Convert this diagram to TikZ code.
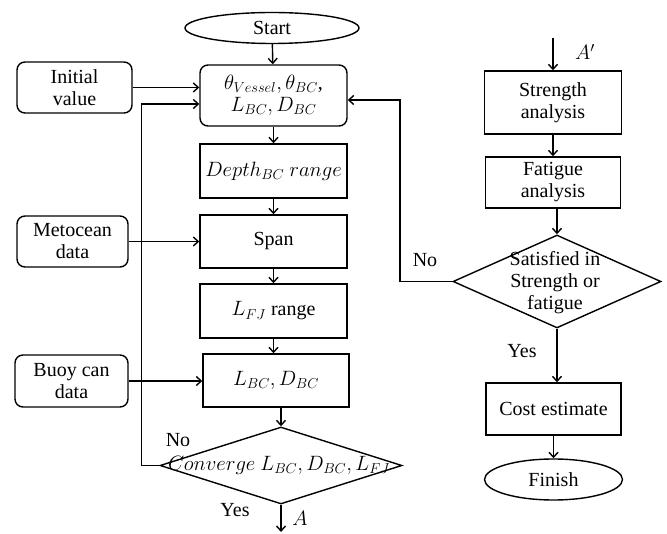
\documentclass[tikz,border=0pt]{standalone}
\usepackage{fontspec}
\setmainfont{Liberation Serif}
\usetikzlibrary{shapes.geometric,arrows.meta}
\begin{document}
\begin{tikzpicture}[x=1pt,y=-1pt,
  every node/.style={font=\fontsize{20}{22}\selectfont},
  box/.style={draw,line width=1.4pt,rectangle,inner sep=0pt,align=center},
  rbox/.style={box,rounded corners=8pt},
  term/.style={draw,line width=1.4pt,ellipse,inner sep=0pt},
  decision/.style={draw,line width=1.4pt,diamond,inner sep=0pt},
  flow/.style={line width=1.4pt,-{Straight Barb[length=5pt,width=9pt]}},
  lbl/.style={inner sep=0pt}]
\useasboundingbox (0,0) rectangle (667,534);
% left column
\node[term,minimum width=174pt,minimum height=31pt] (start) at (272,28) {Start};
\node[rbox,minimum width=147pt,minimum height=61pt] (b1) at (273.5,95.5) {$\theta_{Vessel},\theta_{BC}$,\\$L_{BC},D_{BC}$};
\node[rbox,minimum width=115pt,minimum height=51pt] (iv) at (74.5,87.5) {Initial\\value};
\node[box,minimum width=147pt,minimum height=54pt] (depth) at (273.5,171) {$Depth_{BC}\ range$};
\node[box,minimum width=147pt,minimum height=53pt] (span) at (273.5,241.5) {Span};
\node[rbox,minimum width=111pt,minimum height=51pt] (met) at (72.5,241.5) {Metocean\\data};
\node[box,minimum width=147pt,minimum height=54pt] (lfj) at (273.5,311) {$L_{FJ}$ range};
\node[rbox,minimum width=113pt,minimum height=52pt] (buoy) at (71.5,381) {Buoy can\\data};
\node[box,minimum width=146pt,minimum height=53pt] (lbc) at (276,380.5) {$L_{BC},D_{BC}$};
\node[decision,minimum width=242pt,minimum height=77pt] (d1) at (281,465.5) {};
\node[lbl] (d1t) at (279,465.5) {$Converge\ L_{BC},D_{BC},L_{FJ}$};
\coordinate (aout) at (281,532);
\node[lbl] (no1) at (178,440) {No};
\node[lbl] (yes1) at (235,510) {Yes};
\node[lbl] (alab) at (300,518) {$A$};
% right column
\coordinate (ain) at (553,38);
\node[lbl] (aplab) at (585,52) {$A'$};
\node[box,minimum width=137pt,minimum height=63pt] (str) at (553,102.5) {Strength\\analysis};
\node[box,minimum width=135pt,minimum height=51pt] (fat) at (553,182.5) {Fatigue\\analysis};
\node[decision,minimum width=208pt,minimum height=93pt] (d2) at (557,281.5) {};
\node[lbl,align=center] (d2t) at (555,283) {Satisfied in\\Strength or\\fatigue};
\node[box,minimum width=135pt,minimum height=52pt] (cost) at (553.5,409) {Cost estimate};
\node[term,minimum width=138pt,minimum height=41pt] (fin) at (553.5,479.5) {Finish};
\node[lbl] (no2) at (425,260) {No};
\node[lbl] (yes2) at (522,351) {Yes};
% connectors
\draw[flow] (start) -- (b1);
\draw[flow] (iv.east) -- (iv.east -| b1.west);
\draw[flow] (b1) -- (depth);
\draw[flow] (depth) -- (span);
\draw[flow] (met.east) -- (met.east -| span.west);
\draw[flow] (span) -- (lfj);
\draw[flow] (lfj.south) -- (lfj.south |- lbc.north);
\draw[flow] (buoy.east) -- (buoy.east -| lbc.west);
\draw[flow] (lbc.south -| d1.north) -- (d1.north);
\draw[flow] (d1.south) -- (aout);
\draw[flow] (d1.west) -- ++(-18,0) |- ([yshift=-8.5pt]b1.west);
\draw[flow] (ain) -- (str.north);
\draw[flow] (str) -- (fat);
\draw[flow] (fat.south) -- (fat.south -| d2.north) -- (d2.north);
\draw[flow] (d2.south) -- (d2.south |- cost.north);
\draw[flow] (cost) -- (fin);
\draw[flow] (d2.west) -- (400,281.5) |- ([yshift=-4.5pt]b1.east);
\end{tikzpicture}
\end{document}
